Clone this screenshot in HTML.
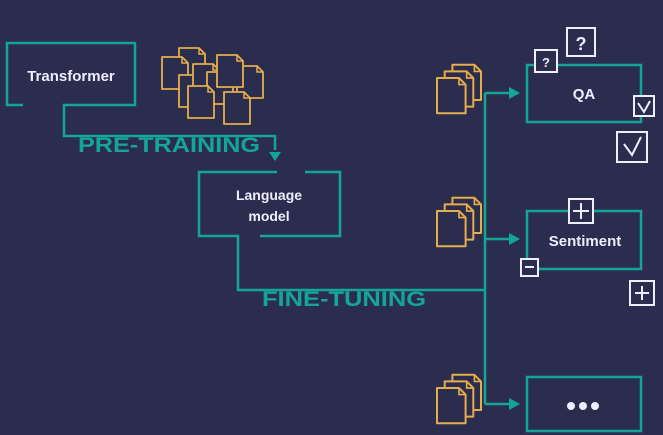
<!DOCTYPE html>
<html><head><style>
html,body{margin:0;padding:0;background:#2b2d4e;}
svg{display:block}
text{font-family:"Liberation Sans",sans-serif;font-weight:bold}
</style></head><body>
<svg width="663" height="435" viewBox="0 0 663 435" xmlns="http://www.w3.org/2000/svg">
<defs>
<g id="doc"><path d="M0,0 H20 L26,6 V32 H0 Z" fill="#2b2d4e" stroke="#e6ad4c" stroke-width="1.8" stroke-linejoin="round"/><path d="M20,0 V6 H26" fill="none" stroke="#e6ad4c" stroke-width="1.5"/></g>
<g id="stack"><use href="#doc" x="14" y="-12"/><use href="#doc" x="7" y="-6"/><use href="#doc" x="0" y="0"/></g>
<marker id="ar" markerWidth="12" markerHeight="12" refX="9" refY="6" orient="auto" markerUnits="userSpaceOnUse"><path d="M0,0 L11,6 L0,12 Z" fill="#14a597"/></marker>
</defs>
<rect width="663" height="435" fill="#2b2d4e"/>
<g fill="none" stroke="#14a597" stroke-width="2.5">
<path d="M23,105 H7 V43 H135 V105 H64 V136 H275 V150"/>
<path d="M277,172 H199 V236 H238 V290 H485"/>
<path d="M305,172 H340 V236 H260"/>
<path d="M485,93 V404"/>
<path d="M485,93 H518" marker-end="url(#ar)"/>
<path d="M485,239 H518" marker-end="url(#ar)"/>
<path d="M485,404 H518" marker-end="url(#ar)"/>
<rect x="527" y="65" width="114" height="57"/>
<rect x="527" y="211" width="114" height="58"/>
<rect x="527" y="377" width="114" height="54"/>
</g>
<path d="M269,152 L281,152 L275,161 Z" fill="#14a597"/>
<text x="71" y="81" fill="#eef" font-size="15" text-anchor="middle">Transformer</text>
<text x="269" y="200" fill="#eef" font-size="14" text-anchor="middle">Language</text>
<text x="269" y="221" fill="#eef" font-size="14" text-anchor="middle">model</text>
<text x="584" y="99" fill="#eef" font-size="15" text-anchor="middle">QA</text>
<text x="585" y="246" fill="#eef" font-size="15" text-anchor="middle">Sentiment</text>
<g fill="#eef"><circle cx="571" cy="406" r="4"/><circle cx="583" cy="406" r="4"/><circle cx="595" cy="406" r="4"/></g>
<text x="78" y="152" fill="#14a597" font-size="21" textLength="182" lengthAdjust="spacingAndGlyphs">PRE-TRAINING</text>
<text x="262" y="306" fill="#14a597" font-size="21" textLength="164" lengthAdjust="spacingAndGlyphs">FINE-TUNING</text>
<use href="#doc" x="179" y="48"/>
<use href="#doc" x="162" y="57"/>
<use href="#doc" x="179" y="75"/>
<use href="#doc" x="193" y="64"/>
<use href="#doc" x="207" y="72"/>
<use href="#doc" x="237" y="66"/>
<use href="#doc" x="217" y="55"/>
<use href="#doc" x="224" y="92"/>
<use href="#doc" x="188" y="86"/>
<use href="#stack" transform="translate(437,78) scale(1.1)"/>
<use href="#stack" transform="translate(437,211) scale(1.1)"/>
<use href="#stack" transform="translate(437,388) scale(1.1)"/>
<g fill="#2b2d4e" stroke="#eef" stroke-width="2">
<rect x="535" y="50" width="22" height="22"/>
<rect x="567" y="28" width="28" height="28"/>
<rect x="634" y="96" width="20" height="20"/>
<rect x="617" y="132" width="30" height="30"/>
<rect x="569" y="199" width="24" height="24"/>
<rect x="521" y="259" width="17" height="17"/>
<rect x="630" y="281" width="24" height="24"/>
</g>
<text x="546" y="67" fill="#eef" font-size="13" text-anchor="middle">?</text>
<text x="581" y="50" fill="#eef" font-size="18" text-anchor="middle">?</text>
<g fill="none" stroke="#eef" stroke-width="2">
<path d="M638,103 L644,112 L650,101"/>
<path d="M624,144 L632,155 L641,137"/>
<path d="M581,203 V219 M573,211 H589"/>
<path d="M525,267 H534"/>
<path d="M642,286 V300 M635,293 H649"/>
</g>
</svg>
</body></html>
